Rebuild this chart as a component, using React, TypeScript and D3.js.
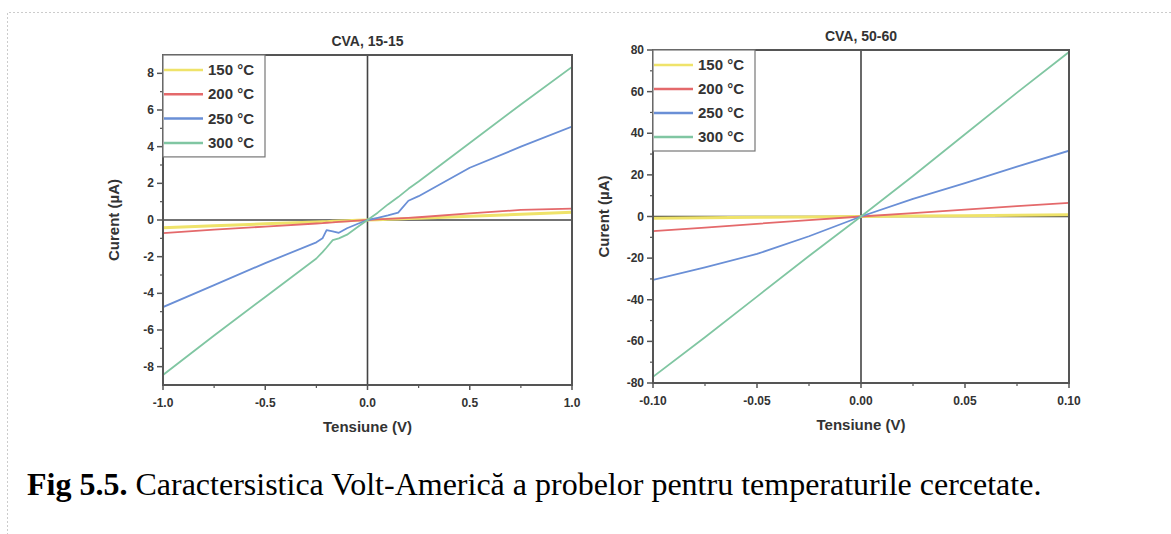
import React from "react";
import * as d3 from "d3";

// series labels / colours
const seriesNames = ["150 °C", "200 °C", "250 °C", "300 °C"];
const seriesColors = ["#efe36a", "#e4696b", "#6a8fd6", "#80c6a2"];

// left panel: CVA, 15-15
const voltsA = [-1, -0.75, -0.5, -0.25, -0.22, -0.2, -0.17, -0.14, -0.1, -0.05, 0, 0.05, 0.1, 0.15, 0.2, 0.25, 0.5, 0.75, 1];
const curA150 = [-0.42, -0.32, -0.21, -0.11, -0.1, -0.09, -0.07, -0.06, -0.04, -0.02, 0, 0.02, 0.04, 0.06, 0.08, 0.1, 0.2, 0.31, 0.42];
const curA200 = [-0.72, -0.52, -0.36, -0.19, -0.17, -0.15, -0.13, -0.1, -0.07, -0.03, 0, 0.03, 0.06, 0.09, 0.12, 0.15, 0.36, 0.55, 0.62];
const curA250 = [-4.75, -3.55, -2.35, -1.22, -1.0, -0.55, -0.62, -0.7, -0.45, -0.22, 0, 0.12, 0.25, 0.4, 1.05, 1.3, 2.85, 4.0, 5.1];
const curA300 = [-8.45, -6.3, -4.2, -2.1, -1.75, -1.5, -1.1, -1.0, -0.8, -0.4, 0, 0.4, 0.85, 1.25, 1.7, 2.1, 4.2, 6.3, 8.35];

// right panel: CVA, 50-60
const voltsB = [-0.1, -0.075, -0.05, -0.025, 0, 0.025, 0.05, 0.075, 0.1];
const curB150 = [-0.8, -0.6, -0.4, -0.2, 0, 0.2, 0.4, 0.6, 0.8];
const curB200 = [-7, -5.3, -3.5, -1.7, 0, 1.6, 3.3, 5, 6.5];
const curB250 = [-30.5, -24.5, -18, -9.5, 0, 8.5, 16, 24, 31.6];
const curB300 = [-77, -58, -38.5, -19, 0, 19.5, 39.5, 59.5, 79];

const xTicksA = [-1, -0.5, 0, 0.5, 1];
const yTicksA = [-8, -6, -4, -2, 0, 2, 4, 6, 8];
const xTicksB = [-0.1, -0.05, 0, 0.05, 0.1];
const yTicksB = [-80, -60, -40, -20, 0, 20, 40, 60, 80];

const FONT = "'Liberation Sans', Arial, sans-serif";
const hy = (s: string) => s.replace("\u2212", "-");

type PanelProps = {
  title: string;
  left: number; right: number; top: number; bottom: number;
  xDomain: [number, number]; yDomain: [number, number];
  volts: number[]; series: number[][];
  xTicks: number[]; yTicks: number[];
  xFmt: (v: number) => string;
  legendW: number; legendStep: number; legendTop: number; titleY: number;
};

const Panel = (p: PanelProps) => {
  const x = d3.scaleLinear().domain(p.xDomain).range([p.left, p.right]);
  const y = d3.scaleLinear().domain(p.yDomain).range([p.bottom, p.top]);
  const line = d3
    .line<number>()
    .x((d, i) => x(p.volts[i]))
    .y((d) => y(d));
  const xStep = p.xTicks[1] - p.xTicks[0];
  const yStep = p.yTicks[1] - p.yTicks[0];
  const xMinor = p.xTicks.slice(0, -1).map((t) => t + xStep / 2);
  const yMinor = p.yTicks.slice(0, -1).map((t) => t + yStep / 2)
    .concat([p.yTicks[0] - yStep / 2, p.yTicks[p.yTicks.length - 1] + yStep / 2])
    .filter((t) => t > p.yDomain[0] && t < p.yDomain[1]);
  const cx = (p.left + p.right) / 2;
  const cy = (p.top + p.bottom) / 2;
  const axisCol = "#555";
  const clipId = "clip" + p.title.replace(/\W/g, "");
  return (
    <g>
      <clipPath id={clipId}>
        <rect x={p.left} y={p.top} width={p.right - p.left} height={p.bottom - p.top} />
      </clipPath>
      {/* zero lines */}
      <line x1={p.left} x2={p.right} y1={y(0)} y2={y(0)} stroke="#444" strokeWidth={1.6} />
      <line x1={x(0)} x2={x(0)} y1={p.top} y2={p.bottom} stroke="#444" strokeWidth={1.6} />
      <g clipPath={`url(#${clipId})`}>
        {p.series.map((s, i) => (
          <path key={i} d={line(s) || ""} fill="none" stroke={seriesColors[i]}
            strokeWidth={i === 0 ? 3 : 1.8} strokeLinejoin="round" />
        ))}
      </g>
      {/* frame */}
      <rect x={p.left} y={p.top} width={p.right - p.left} height={p.bottom - p.top}
        fill="none" stroke={axisCol} strokeWidth={2} />
      {/* x ticks */}
      {p.xTicks.map((t) => (
        <g key={"x" + t}>
          <line x1={x(t)} x2={x(t)} y1={p.bottom} y2={p.bottom + 5} stroke={axisCol} strokeWidth={1.5} />
          <text x={x(t)} y={p.bottom + 22} textAnchor="middle" fontFamily={FONT} fontWeight="bold"
            fontSize={12} fill="#333">{hy(p.xFmt(t))}</text>
        </g>
      ))}
      {xMinor.map((t) => (
        <line key={"xm" + t} x1={x(t)} x2={x(t)} y1={p.bottom} y2={p.bottom + 3} stroke={axisCol} strokeWidth={1.2} />
      ))}
      {/* y ticks */}
      {p.yTicks.map((t) => (
        <g key={"y" + t}>
          <line x1={p.left - 6} x2={p.left} y1={y(t)} y2={y(t)} stroke={axisCol} strokeWidth={1.5} />
          <text x={p.left - 9} y={y(t) + 4} textAnchor="end" fontFamily={FONT} fontWeight="bold"
            fontSize={12} fill="#333">{hy(String(t))}</text>
        </g>
      ))}
      {yMinor.map((t) => (
        <line key={"ym" + t} x1={p.left - 3} x2={p.left} y1={y(t)} y2={y(t)} stroke={axisCol} strokeWidth={1.2} />
      ))}
      {/* titles */}
      <text x={cx} y={p.titleY} textAnchor="middle" fontFamily={FONT} fontWeight="bold" fontSize={14} fill="#333">
        {p.title}
      </text>
      <text x={cx} y={p.bottom + 47} textAnchor="middle" fontFamily={FONT} fontWeight="bold" fontSize={15} fill="#333">
        Tensiune (V)
      </text>
      <text transform={`translate(${p.left - 44},${cy}) rotate(-90)`} textAnchor="middle" fontFamily={FONT}
        fontWeight="bold" fontSize={15} fill="#333">
        Curent (µA)
      </text>
      {/* legend */}
      <rect x={p.left} y={p.top} width={p.legendW} height={p.legendTop + p.legendStep * 3 + 14}
        fill="#fff" stroke="#777" strokeWidth={1.2} />
      {seriesNames.map((n, i) => {
        const ly = p.top + p.legendTop + i * p.legendStep;
        return (
          <g key={n}>
            <line x1={p.left + 1} x2={p.left + 40} y1={ly} y2={ly} stroke={seriesColors[i]} strokeWidth={2.5} />
            <text x={p.left + 45} y={ly + 5} fontFamily={FONT} fontWeight="bold" fontSize={15} fill="#333">{n}</text>
          </g>
        );
      })}
    </g>
  );
};

const App = () => {
  return (
    <svg width={1171} height={534} style={{ position: "absolute", left: 0, top: 0, background: "#fff" }}>
      <path d="M1171,12.5 H7.5 V534" fill="none" stroke="#ccc" strokeWidth={1} strokeDasharray="2,2" />
      <Panel title="CVA, 15-15" left={163} right={572} top={55} bottom={385}
        xDomain={[-1, 1]} yDomain={[-9, 9]} volts={voltsA}
        series={[curA150, curA200, curA250, curA300]}
        xTicks={xTicksA} yTicks={yTicksA} xFmt={d3.format(".1f")}
        legendW={102} legendStep={24.3} legendTop={15} titleY={46} />
      <Panel title="CVA, 50-60" left={653} right={1069} top={50} bottom={383}
        xDomain={[-0.1, 0.1]} yDomain={[-80, 80]} volts={voltsB}
        series={[curB150, curB200, curB250, curB300]}
        xTicks={xTicksB} yTicks={yTicksB} xFmt={d3.format(".2f")}
        legendW={102} legendStep={24} legendTop={15} titleY={41} />
      <text x={27} y={495} fontFamily="'Liberation Serif', 'Times New Roman', serif" fontSize={32} fill="#000">
        <tspan fontWeight="bold">Fig 5.5.</tspan> Caractersistica Volt-Americă a probelor pentru temperaturile cercetate.
      </text>
    </svg>
  );
};

export default App;
